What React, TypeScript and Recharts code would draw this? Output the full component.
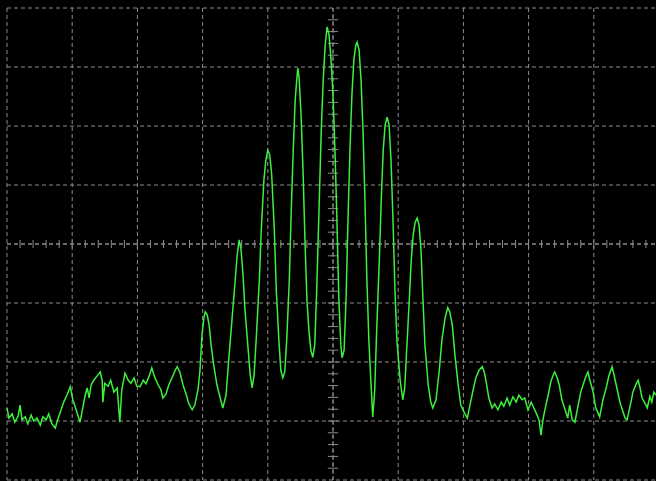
import { CartesianGrid, Line, LineChart, ReferenceLine, XAxis, YAxis } from "recharts";

// time in tenths of a division (0..100), amplitude in tenths of a division (-40..40)
const time = [
  0.0, 0.3, 0.8, 1.2, 1.7, 2.0, 2.3, 2.8, 3.2, 3.7, 4.1, 4.6, 5.1, 5.5, 6.0, 6.4, 6.9, 7.4, 7.8, 8.3,
  8.7, 9.2, 9.7, 10.1, 10.6, 11.2, 11.7, 12.0, 12.3, 12.6, 12.9, 13.3, 13.8, 14.3, 14.6, 14.7, 15.0, 15.5, 15.9, 16.4,
  16.9, 17.3, 17.6, 18.1, 18.6, 19.0, 19.5, 19.9, 20.4, 20.9, 21.3, 21.8, 22.2, 22.7, 23.2, 23.6, 23.9, 24.4, 24.8, 25.3,
  25.8, 26.1, 26.5, 27.0, 27.5, 27.9, 28.4, 28.8, 29.3, 29.6, 29.9, 30.2, 30.4, 30.7, 31.0, 31.3, 31.7, 32.2, 32.7, 33.1,
  33.6, 34.0, 34.5, 35.0, 35.3, 35.6, 35.9, 36.2, 36.5, 37.0, 37.3, 37.6, 37.9, 38.3, 38.7, 39.0, 39.4, 39.7, 40.0, 40.3,
  40.6, 41.0, 41.3, 41.7, 42.0, 42.3, 42.6, 42.9, 43.3, 43.6, 43.9, 44.2, 44.5, 44.6, 44.8, 45.1, 45.4, 45.7, 46.0, 46.3,
  46.6, 46.9, 47.2, 47.5, 47.9, 48.2, 48.5, 48.8, 49.1, 49.4, 49.7, 50.0, 50.3, 50.6, 50.9, 51.2, 51.4, 51.7, 52.0, 52.3,
  52.6, 52.9, 53.2, 53.5, 53.7, 54.0, 54.3, 54.6, 54.9, 55.2, 55.5, 55.8, 56.1, 56.4, 56.7, 57.1, 57.4, 57.7, 58.0, 58.3,
  58.6, 58.9, 59.2, 59.5, 59.8, 60.3, 60.7, 61.0, 61.3, 61.7, 62.0, 62.3, 62.6, 62.9, 63.2, 63.5, 63.8, 64.1, 64.6, 65.0,
  65.3, 65.8, 66.3, 66.7, 67.2, 67.6, 67.9, 68.3, 68.7, 69.2, 69.6, 70.1, 70.6, 71.0, 71.5, 71.9, 72.4, 72.9, 73.2, 73.5,
  73.9, 74.4, 74.8, 75.3, 75.8, 76.2, 76.7, 77.1, 77.6, 78.1, 78.5, 79.0, 79.4, 79.9, 80.4, 80.8, 81.3, 81.6, 81.9, 82.2,
  82.5, 83.0, 83.4, 83.7, 84.0, 84.4, 84.7, 85.1, 85.6, 86.0, 86.3, 86.7, 87.1, 87.6, 88.0, 88.5, 88.8, 89.1, 89.4, 89.9,
  90.3, 90.6, 90.9, 91.4, 91.9, 92.3, 92.8, 93.1, 93.6, 94.0, 94.5, 94.8, 95.1, 95.6, 96.0, 96.5, 96.8, 97.1, 97.4, 97.9,
  98.2, 98.6, 98.9, 99.2, 99.5,
];

const signal = [
  -27.8, -29.5, -28.8, -30.2, -29.2, -27.3, -29.8, -29.3, -30.5, -29.0, -30.0, -29.5, -30.7, -29.3, -29.8, -28.8, -30.5, -31.2, -29.7, -28.1,
  -26.8, -25.6, -24.2, -26.4, -28.1, -30.2, -27.3, -25.6, -24.4, -26.1, -23.9, -23.1, -22.4, -21.7, -23.1, -26.8, -23.6, -24.1, -23.1, -25.1,
  -24.4, -30.2, -24.7, -21.9, -23.1, -23.6, -22.7, -24.1, -24.2, -23.1, -23.7, -22.4, -21.0, -22.7, -23.9, -24.7, -26.1, -25.4, -23.9, -22.7,
  -21.4, -20.8, -21.7, -23.9, -25.6, -27.1, -28.1, -27.3, -24.7, -21.4, -15.4, -12.5, -11.5, -12.0, -13.7, -17.1, -20.5, -23.9, -26.1, -27.8,
  -25.6, -19.7, -12.9, -6.1, -1.9, 0.7, -1.0, -5.3, -11.2, -18.0, -22.2, -24.4, -22.2, -14.6, -6.1, 2.4, 10.8, 14.2, 15.9, 15.1,
  11.7, 2.4, -7.8, -16.3, -21.4, -22.7, -21.7, -16.3, -6.1, 5.8, 15.9, 24.4, 28.6, 29.8, 28.1, 21.9, 12.5, 0.7, -9.5, -14.6,
  -18.0, -19.2, -17.1, -7.8, 7.5, 19.3, 27.8, 33.7, 36.8, 35.4, 31.2, 25.3, 15.9, 4.1, -9.5, -17.1, -19.3, -18.0, -9.5, 4.1,
  15.9, 25.3, 31.2, 33.7, 34.2, 32.9, 27.8, 19.3, 7.5, -6.1, -16.3, -23.1, -29.3, -24.7, -14.6, -2.7, 7.5, 15.9, 20.2, 21.5,
  20.2, 14.2, 4.1, -7.8, -16.3, -23.1, -26.4, -24.4, -18.0, -9.5, -2.7, 1.5, 3.7, 4.4, 3.2, -1.0, -9.5, -17.1, -23.9, -26.8,
  -27.8, -26.4, -21.4, -16.3, -12.5, -10.8, -11.5, -13.7, -18.8, -23.9, -27.3, -28.5, -29.5, -27.3, -24.7, -22.7, -21.4, -20.8, -21.7, -23.4,
  -26.1, -27.8, -27.1, -28.1, -26.8, -27.5, -26.1, -27.3, -25.9, -26.8, -25.6, -26.4, -26.1, -28.1, -26.8, -27.8, -29.0, -29.8, -32.4, -29.8,
  -28.1, -25.6, -23.4, -22.4, -21.7, -22.7, -23.9, -26.4, -28.1, -29.5, -27.3, -29.8, -30.2, -27.3, -25.1, -23.4, -22.4, -21.7, -23.1, -25.1,
  -27.8, -28.5, -29.3, -26.4, -24.4, -22.4, -20.8, -22.2, -24.7, -26.8, -28.5, -29.5, -29.8, -27.3, -25.1, -23.7, -23.1, -24.4, -26.1, -27.1,
  -27.8, -25.8, -26.8, -25.1, -25.6,
];

const divTicksX = [0, 10, 20, 30, 40, 50, 60, 70, 80, 90, 100];
const divTicksY = [-40, -30, -20, -10, 0, 10, 20, 30, 40];

const data = time.map((t, i) => ({ t, v: signal[i] }));

// minor graticule marks on the centre lines, 5 per division
const minorX: number[] = [];
for (let i = 2; i < 100; i += 2) minorX.push(i);
const minorY: number[] = [];
for (let i = -38; i < 40; i += 2) minorY.push(i);

const gridColor = "#8c8c8c";

const App = () => {
  return (
    <div style={{ position: "absolute", left: 0, top: 0, width: 656, height: 481, background: "#000", overflow: "hidden" }}>
      <LineChart width={666} height={481} data={data} margin={{ top: 8, right: 7, left: 7, bottom: 1 }}>
        <XAxis dataKey="t" type="number" domain={[0, 100]} ticks={divTicksX} hide />
        <YAxis type="number" domain={[-40, 40]} ticks={divTicksY} hide />
        <CartesianGrid stroke={gridColor} strokeDasharray="4 3" />
        <ReferenceLine x={50} stroke={gridColor} strokeDasharray="4 3" />
        <ReferenceLine y={0} stroke={gridColor} strokeDasharray="4 3" />
        {minorX.map((x) => (
          <ReferenceLine key={"mx" + x} segment={[{ x, y: -0.7 }, { x, y: 0.7 }]} stroke={gridColor} />
        ))}
        {minorY.map((y) => (
          <ReferenceLine key={"my" + y} segment={[{ x: 49.2, y }, { x: 50.8, y }]} stroke={gridColor} />
        ))}
        <Line type="linear" dataKey="v" stroke="#3cf03c" strokeWidth={1.5} dot={false} isAnimationActive={false} />
      </LineChart>
    </div>
  );
};

export default App;
